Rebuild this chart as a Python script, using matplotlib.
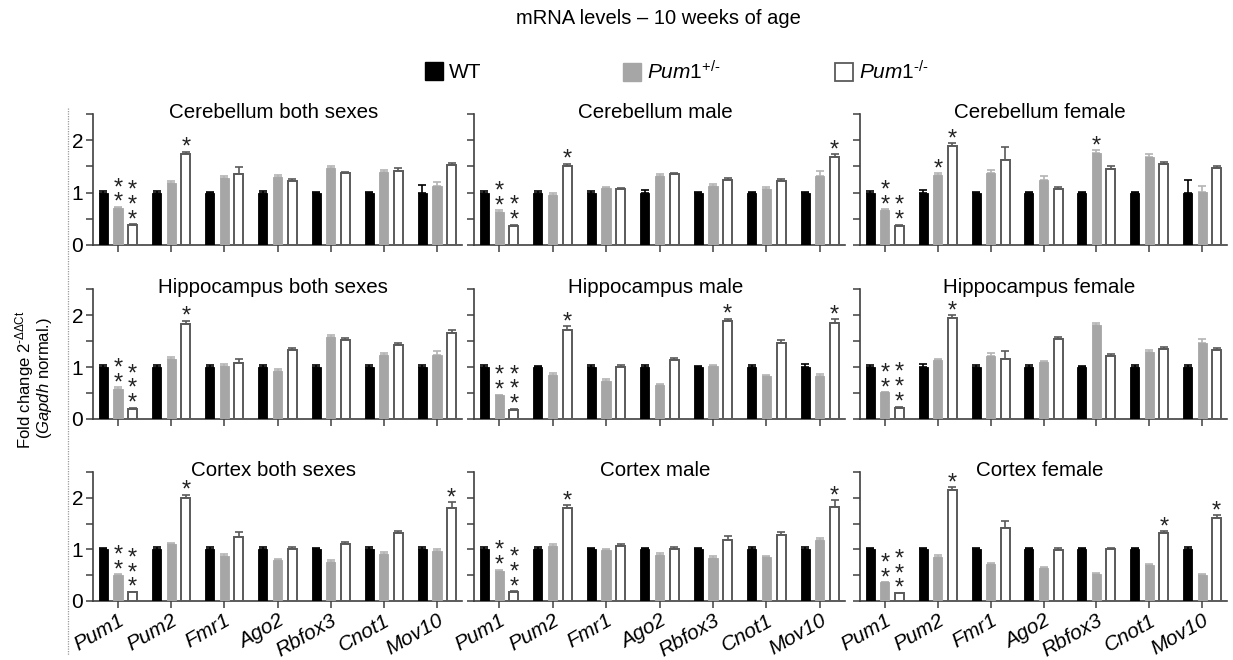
import matplotlib
matplotlib.use("Agg")
import matplotlib.pyplot as plt
from matplotlib.patches import Patch
from matplotlib.lines import Line2D
import numpy as np

plt.rcParams['font.family'] = ['Liberation Sans', 'DejaVu Sans']
plt.rcParams['mathtext.fontset'] = 'custom'
plt.rcParams['mathtext.rm'] = 'Liberation Sans'
plt.rcParams['mathtext.it'] = 'Liberation Sans:italic'

genes = ['Pum1', 'Pum2', 'Fmr1', 'Ago2', 'Rbfox3', 'Cnot1', 'Mov10']
wt_mean = [1.0, 1.0, 1.0, 1.0, 1.0, 1.0, 1.0]

# Cerebellum
cb_both_wt_err = [0.04, 0.03, 0.02, 0.03, 0.02, 0.01, 0.15]
cb_both_het = [0.71, 1.19, 1.27, 1.29, 1.47, 1.39, 1.13]
cb_both_het_err = [0.02, 0.03, 0.04, 0.05, 0.04, 0.04, 0.08]
cb_both_ko = [0.38, 1.73, 1.35, 1.22, 1.37, 1.42, 1.53]
cb_both_ko_err = [0.02, 0.05, 0.14, 0.04, 0.03, 0.04, 0.04]

cb_male_wt_err = [0.03, 0.03, 0.03, 0.05, 0.01, 0.02, 0.01]
cb_male_het = [0.63, 0.96, 1.08, 1.32, 1.12, 1.07, 1.32]
cb_male_het_err = [0.03, 0.04, 0.03, 0.04, 0.04, 0.04, 0.10]
cb_male_ko = [0.37, 1.50, 1.06, 1.35, 1.25, 1.22, 1.67]
cb_male_ko_err = [0.02, 0.05, 0.03, 0.03, 0.03, 0.04, 0.06]

cb_fem_wt_err = [0.04, 0.05, 0.02, 0.02, 0.02, 0.01, 0.24]
cb_fem_het = [0.67, 1.34, 1.38, 1.25, 1.75, 1.67, 1.02]
cb_fem_het_err = [0.02, 0.03, 0.06, 0.07, 0.06, 0.07, 0.10]
cb_fem_ko = [0.37, 1.89, 1.62, 1.06, 1.45, 1.54, 1.47]
cb_fem_ko_err = [0.02, 0.05, 0.25, 0.04, 0.05, 0.04, 0.04]

# Hippocampus
hc_both_wt_err = [0.04, 0.04, 0.04, 0.04, 0.04, 0.04, 0.04]
hc_both_het = [0.58, 1.16, 1.02, 0.92, 1.58, 1.23, 1.24]
hc_both_het_err = [0.03, 0.03, 0.03, 0.05, 0.03, 0.03, 0.07]
hc_both_ko = [0.20, 1.83, 1.08, 1.32, 1.52, 1.43, 1.65]
hc_both_ko_err = [0.02, 0.06, 0.08, 0.04, 0.03, 0.03, 0.06]

hc_male_wt_err = [0.03, 0.02, 0.04, 0.03, 0.02, 0.04, 0.05]
hc_male_het = [0.46, 0.84, 0.74, 0.65, 1.02, 0.83, 0.83]
hc_male_het_err = [0.01, 0.04, 0.02, 0.02, 0.01, 0.01, 0.04]
hc_male_ko = [0.18, 1.72, 1.00, 1.14, 1.88, 1.47, 1.85]
hc_male_ko_err = [0.02, 0.07, 0.04, 0.04, 0.05, 0.04, 0.07]

hc_fem_wt_err = [0.04, 0.05, 0.03, 0.03, 0.02, 0.04, 0.03]
hc_fem_het = [0.51, 1.13, 1.22, 1.10, 1.80, 1.29, 1.47]
hc_fem_het_err = [0.01, 0.03, 0.04, 0.02, 0.04, 0.04, 0.07]
hc_fem_ko = [0.22, 1.94, 1.16, 1.53, 1.22, 1.35, 1.32]
hc_fem_ko_err = [0.02, 0.06, 0.14, 0.05, 0.03, 0.04, 0.05]

# Cortex
cx_both_wt_err = [0.03, 0.04, 0.04, 0.04, 0.02, 0.04, 0.05]
cx_both_het = [0.50, 1.10, 0.88, 0.79, 0.76, 0.92, 0.96]
cx_both_het_err = [0.02, 0.03, 0.03, 0.03, 0.04, 0.02, 0.04]
cx_both_ko = [0.17, 2.00, 1.25, 1.01, 1.10, 1.31, 1.81]
cx_both_ko_err = [0.01, 0.06, 0.09, 0.04, 0.05, 0.05, 0.11]

cx_male_wt_err = [0.04, 0.04, 0.03, 0.03, 0.02, 0.04, 0.04]
cx_male_het = [0.59, 1.07, 0.98, 0.90, 0.84, 0.85, 1.19]
cx_male_het_err = [0.02, 0.03, 0.03, 0.03, 0.04, 0.03, 0.03]
cx_male_ko = [0.18, 1.81, 1.06, 1.00, 1.19, 1.28, 1.83]
cx_male_ko_err = [0.01, 0.05, 0.04, 0.04, 0.07, 0.06, 0.13]

cx_fem_wt_err = [0.03, 0.03, 0.03, 0.03, 0.03, 0.03, 0.04]
cx_fem_het = [0.36, 0.86, 0.72, 0.63, 0.53, 0.70, 0.51]
cx_fem_het_err = [0.01, 0.04, 0.02, 0.02, 0.01, 0.02, 0.01]
cx_fem_ko = [0.15, 2.15, 1.42, 0.99, 1.00, 1.32, 1.60]
cx_fem_ko_err = [0.01, 0.05, 0.14, 0.03, 0.03, 0.04, 0.06]

# significance stars: (gene index, series 1=het 2=ko, number of stars)
cb_both_stars = [(0, 1, 2), (0, 2, 3), (1, 2, 1)]
cb_male_stars = [(0, 1, 2), (0, 2, 2), (1, 2, 1), (6, 2, 1)]
cb_fem_stars = [(0, 1, 2), (0, 2, 2), (1, 1, 1), (1, 2, 1), (4, 1, 1)]
hc_both_stars = [(0, 1, 2), (0, 2, 3), (1, 2, 1)]
hc_male_stars = [(0, 1, 2), (0, 2, 3), (1, 2, 1), (4, 2, 1), (6, 2, 1)]
hc_fem_stars = [(0, 1, 2), (0, 2, 3), (1, 2, 1)]
cx_both_stars = [(0, 1, 2), (0, 2, 3), (1, 2, 1), (6, 2, 1)]
cx_male_stars = [(0, 1, 2), (0, 2, 3), (1, 2, 1), (6, 2, 1)]
cx_fem_stars = [(0, 1, 2), (0, 2, 3), (1, 2, 1), (5, 2, 1), (6, 2, 1)]

panels = [
    ('Cerebellum both sexes', cb_both_wt_err, cb_both_het, cb_both_het_err, cb_both_ko, cb_both_ko_err, cb_both_stars),
    ('Cerebellum male', cb_male_wt_err, cb_male_het, cb_male_het_err, cb_male_ko, cb_male_ko_err, cb_male_stars),
    ('Cerebellum female', cb_fem_wt_err, cb_fem_het, cb_fem_het_err, cb_fem_ko, cb_fem_ko_err, cb_fem_stars),
    ('Hippocampus both sexes', hc_both_wt_err, hc_both_het, hc_both_het_err, hc_both_ko, hc_both_ko_err, hc_both_stars),
    ('Hippocampus male', hc_male_wt_err, hc_male_het, hc_male_het_err, hc_male_ko, hc_male_ko_err, hc_male_stars),
    ('Hippocampus female', hc_fem_wt_err, hc_fem_het, hc_fem_het_err, hc_fem_ko, hc_fem_ko_err, hc_fem_stars),
    ('Cortex both sexes', cx_both_wt_err, cx_both_het, cx_both_het_err, cx_both_ko, cx_both_ko_err, cx_both_stars),
    ('Cortex male', cx_male_wt_err, cx_male_het, cx_male_het_err, cx_male_ko, cx_male_ko_err, cx_male_stars),
    ('Cortex female', cx_fem_wt_err, cx_fem_het, cx_fem_het_err, cx_fem_ko, cx_fem_ko_err, cx_fem_stars),
]

W, H = 1233, 660
fig = plt.figure(figsize=(W / 100, H / 100), dpi=100)

col_left = [93, 474, 860]
col_width = [369, 371, 367]
row_top = [114, 289, 472]
row_bot = [245, 419, 601]

face = ['black', '#a6a6a6', 'white']
edge = ['black', '#a6a6a6', '#5a5a5a']
ecol = ['black', '#b4b4b4', '#5a5a5a']
offs = [-0.275, 0.0, 0.275]
bw = 0.17
axc = '#404040'

x = np.arange(len(genes))
for i, (title, wt_err, het, het_err, ko, ko_err, stars) in enumerate(panels):
    r, c = divmod(i, 3)
    ax = fig.add_axes([col_left[c] / W, 1 - row_bot[r] / H,
                       col_width[c] / W, (row_bot[r] - row_top[r]) / H])
    means = [wt_mean, het, ko]
    errs = [wt_err, het_err, ko_err]
    for k in range(3):
        m = np.array(means[k])
        e = np.array(errs[k])
        ax.bar(x + offs[k], m, width=bw, color=face[k], edgecolor=edge[k],
               linewidth=1.4 if k == 2 else 0.6, zorder=3)
        ax.errorbar(x + offs[k], m, yerr=[np.zeros_like(e), e], fmt='none',
                    ecolor=ecol[k], elinewidth=1.2, capsize=2.6, capthick=1.2, zorder=2)
    for g, k, n in stars:
        top = means[k][g] + errs[k][g]
        ax.annotate('\n'.join(['*'] * n), (x[g] + offs[k], top), xytext=(0, -5.2),
                    textcoords='offset points', ha='center', va='bottom',
                    fontsize=17, linespacing=0.58, color='#222222')
    ax.set_xlim(-0.47, 6.47)
    ax.set_ylim(0, 2.5)
    ax.set_yticks([0, 0.5, 1, 1.5, 2, 2.5])
    if c == 0:
        ax.set_yticklabels(['0', '', '1', '', '2', ''], fontsize=15)
    else:
        ax.set_yticklabels([])
    ax.set_xticks(x)
    if r == 2:
        ax.set_xticklabels(genes, rotation=30, ha='right', rotation_mode='anchor',
                           fontsize=15, style='italic')
    else:
        ax.set_xticklabels([])
    for sp in ['top', 'right']:
        ax.spines[sp].set_visible(False)
    for sp in ['left', 'bottom']:
        ax.spines[sp].set_color(axc)
        ax.spines[sp].set_linewidth(1.2)
    ax.tick_params(axis='both', direction='out', length=5, width=1.1, color=axc, pad=2)
    ax.annotate(title, (0.5, 1.0), xycoords='axes fraction', xytext=(-3, 1),
                textcoords='offset points', ha='center', va='center', fontsize=14.8)

fig.text(658 / W, 1 - 19 / H, 'mRNA levels \u2013 10 weeks of age', ha='center', va='center', fontsize=14.5)

leg_items = [
    (Patch(facecolor='black', edgecolor='black'), 'WT', 425),
    (Patch(facecolor='#a6a6a6', edgecolor='#a6a6a6'), r'$\mathit{Pum1}^{\text{+/-}}$', 623),
    (Patch(facecolor='white', edgecolor='#5a5a5a', linewidth=1.3), r'$\mathit{Pum1}^{\text{-/-}}$', 835),
]
for h, lab, px in leg_items:
    fig.legend(handles=[h], labels=[lab], loc='center left', bbox_to_anchor=(px / W, 1 - 72 / H),
               frameon=False, handlelength=0.85, handleheight=0.95, handletextpad=0.3,
               borderpad=0, borderaxespad=0, fontsize=15)

fig.text(25 / W, 1 - 380 / H, 'Fold change 2$^{\\text{-}\\mathregular{\u0394\u0394Ct}}$', rotation=90,
         ha='center', va='center', fontsize=12)
fig.text(45 / W, 1 - 378 / H, '($\\mathit{Gapdh}$ normal.)', rotation=90,
         ha='center', va='center', fontsize=12)

fig.add_artist(Line2D([68 / W, 68 / W], [1 - 108 / H, 1 - 655 / H], color='#9a9a9a',
                      linestyle=(0, (1, 1)), linewidth=0.9))

fig.savefig('out.png', dpi=100)
